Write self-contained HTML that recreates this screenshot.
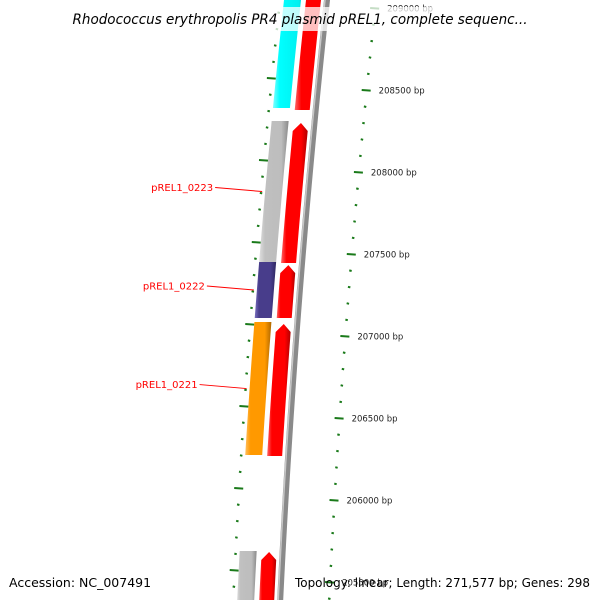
<!DOCTYPE html>
<html><head><meta charset="utf-8"><style>
html,body{margin:0;padding:0;background:#fff}
svg{display:block}
</style></head><body>
<svg id="map" width="600" height="600" viewBox="0 0 600 600" xmlns="http://www.w3.org/2000/svg">
<defs>
<linearGradient id="gRed" x1="0" x2="1" y1="0" y2="0"><stop offset="0" stop-color="#ff6666"/><stop offset="0.2" stop-color="#ff0000"/><stop offset="0.75" stop-color="#ff0000"/><stop offset="1" stop-color="#b00000"/></linearGradient>
<linearGradient id="gCyan" x1="0" x2="1" y1="0" y2="0"><stop offset="0" stop-color="#80ffff"/><stop offset="0.2" stop-color="#00ffff"/><stop offset="0.75" stop-color="#00f0f0"/><stop offset="1" stop-color="#00b0b0"/></linearGradient>
<linearGradient id="gGrey" x1="0" x2="1" y1="0" y2="0"><stop offset="0" stop-color="#e0e0e0"/><stop offset="0.2" stop-color="#c0c0c0"/><stop offset="0.75" stop-color="#bdbdbd"/><stop offset="1" stop-color="#8a8a8a"/></linearGradient>
<linearGradient id="gPurple" x1="0" x2="1" y1="0" y2="0"><stop offset="0" stop-color="#7a70c0"/><stop offset="0.2" stop-color="#483d8b"/><stop offset="0.75" stop-color="#483d8b"/><stop offset="1" stop-color="#2e2760"/></linearGradient>
<linearGradient id="gOrange" x1="0" x2="1" y1="0" y2="0"><stop offset="0" stop-color="#ffc060"/><stop offset="0.2" stop-color="#ff9900"/><stop offset="0.75" stop-color="#ff9900"/><stop offset="1" stop-color="#b06800"/></linearGradient>
<linearGradient id="gBack" x1="0" x2="1" y1="0" y2="0"><stop offset="0" stop-color="#c8c8c8"/><stop offset="0.5" stop-color="#888"/><stop offset="1" stop-color="#555"/></linearGradient>
</defs>
<g id="ticks"></g>
<g id="features"></g>
<g id="labels"></g>
<rect x="0" y="7" width="600" height="24" fill="#fff" fill-opacity="0.75"/>
<text x="300" y="24" text-anchor="middle" font-family="DejaVu Sans, Liberation Sans, sans-serif" font-style="italic" font-size="14" textLength="455" lengthAdjust="spacingAndGlyphs" fill="#000">Rhodococcus erythropolis PR4 plasmid pREL1, complete sequenc...</text>
<text x="9" y="587" font-family="DejaVu Sans, Liberation Sans, sans-serif" font-size="12.5" fill="#000">Accession: NC_007491</text>
<text x="590" y="587" text-anchor="end" font-family="DejaVu Sans, Liberation Sans, sans-serif" font-size="12.5" textLength="295" lengthAdjust="spacingAndGlyphs" fill="#000">Topology: linear; Length: 271,577 bp; Genes: 298</text>
</svg>
<script>
// data
const tickStartBp = 205000;
const tickEndBp = 209300;
const tickStep = 100;
const labelStep = 500;
const fwdStarts = [208378, 207445, 207110, 206268, 205300];
const fwdEnds   = [209400, 208299, 207432, 207073, 205683];
const revStarts = [208390, 207451, 207110, 206274, 205300];
const revEnds   = [209400, 208311, 207451, 207085, 205689];
const revColors = ['gCyan','gGrey','gPurple','gOrange','gGrey'];
const labelNames = ['pREL1_0223','pREL1_0222','pREL1_0221'];
const labelFeature = [1,2,3];

const NS='http://www.w3.org/2000/svg';
function yOf(bp){ return 8 + (209000 - bp) * 0.164; }
function xb(y){ return 327 - 0.108*y + 0.00005*y*y; }
function mk(tag, attrs, parent){ const e=document.createElementNS(NS,tag); for(const k in attrs) e.setAttribute(k,attrs[k]); parent.appendChild(e); return e; }
const gT=document.getElementById('ticks'), gF=document.getElementById('features'), gL=document.getElementById('labels');

// backbone
let d='';
for(let y=-5;y<=605;y+=5){ d+=(y===-5?'M':'L')+xb(y).toFixed(2)+' '+y+' '; }
const bb=mk('path',{d:d,stroke:'#8a8a8a','stroke-width':6,fill:'none'},gF);


const bb2=mk('path',{d:d,stroke:'#c8c8c8','stroke-width':1.5,fill:'none',transform:'translate(-2,0)'},gF);



function band(y1,y2,o1,o2,tip){
  // y1 top, y2 bottom
  const pts=[]; const n=8;
  const yTop = tip ? y1+8 : y1;
  for(let i=0;i<=n;i++){ const y=yTop+(y2-yTop)*i/n; pts.push([xb(y)+o1,y]); }
  for(let i=n;i>=0;i--){ const y=yTop+(y2-yTop)*i/n; pts.push([xb(y)+o2,y]); }
  if(tip){ pts.push([xb(y1)+(o1+o2)/2, y1]); }
  return pts.map(p=>p[0].toFixed(2)+','+p[1].toFixed(2)).join(' ');
}

// reverse features
for(let i=0;i<revStarts.length;i++){
  const y1=yOf(revEnds[i]), y2=yOf(revStarts[i]);
  const p=mk('polygon',{points:band(y1,y2,-43,-26,false),fill:'url(#'+revColors[i]+')'},gF);
  
  
}
// forward features
for(let i=0;i<fwdStarts.length;i++){
  const y1=yOf(fwdEnds[i]), y2=yOf(fwdStarts[i]);
  const p=mk('polygon',{points:band(y1,y2,-21,-6,y1>0),fill:'url(#gRed)'},gF);
  
  
}

// ticks
for(let bp=tickStartBp; bp<=tickEndBp; bp+=tickStep){
  const y=yOf(bp); if(y<-5||y>605) continue;
  const major = bp % labelStep === 0;
  const xr=xb(y)+49;
  const t=mk('line',{x1:major?xr-5:xr-1.2,x2:major?xr+4:xr+1.2,y1:y,y2:y+0.6,stroke:'#1a7a1a','stroke-width':2},gT);
  
  
  const yl=y-12; const xl=xb(yl)-47;
  const t2=mk('line',{x1:major?xl-5:xl-1.2,x2:major?xl+4:xl+1.2,y1:yl,y2:yl+0.6,stroke:'#1a7a1a','stroke-width':2},gT);
  
  
  if(major){
    const tx=mk('text',{x:xr+12,y:y+3.5,'font-family':'DejaVu Sans, Liberation Sans, sans-serif','font-size':'8.5',fill:'#222'},gT);
    tx.textContent=bp+' bp';
    
    
  }
}

// gene labels
for(let i=0;i<labelNames.length;i++){
  const f=labelFeature[i];
  const ym=(yOf(revEnds[f])+yOf(revStarts[f]))/2;
  const xe=xb(ym)-46;
  const ln=mk('line',{x1:xe-47,y1:ym-4,x2:xe,y2:ym,stroke:'#ff0000','stroke-width':1},gL);
  
  
  const tx=mk('text',{x:xe-49,y:ym-0.5,'text-anchor':'end','font-family':'DejaVu Sans, Liberation Sans, sans-serif','font-size':'10',fill:'#ff0000'},gL);
  tx.textContent=labelNames[i];
  
  
}
</script>
</body></html>
